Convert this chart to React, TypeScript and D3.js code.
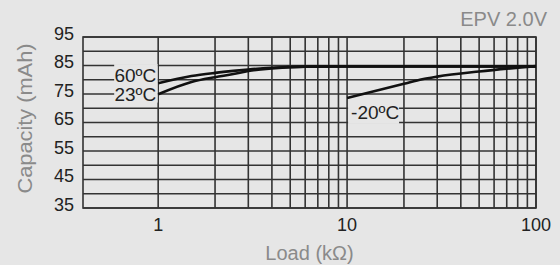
import React from "react";
import { scaleLog, scaleLinear, line, curveMonotoneX, range } from "d3";

const width = 560;
const height = 265;
const margin = { top: 37, right: 24, bottom: 57, left: 83 };

const xDomain = [0.4, 100];
const yDomain = [35, 95];
const xTickLabels = [1, 10, 100];
const xGridValues = [1, 2, 3, 4, 5, 6, 7, 8, 9, 10, 20, 30, 40, 50, 60, 70, 80, 90, 100];
const yTickLabels = [35, 45, 55, 65, 75, 85, 95];
const yGridValues = range(35, 96, 5);

const load60 = [1, 1.5, 2, 2.5, 3, 4, 6, 10, 100];
const cap60 = [78.8, 81.3, 82.4, 83.1, 83.6, 84.2, 84.6, 84.7, 84.7];
const load23 = [1, 1.5, 2, 2.5, 3, 4, 6, 10, 100];
const cap23 = [74.9, 79.2, 80.9, 82.0, 83.1, 84.0, 84.6, 84.7, 84.7];
const loadM20 = [10, 20, 25, 30, 50, 100];
const capM20 = [73.6, 78.6, 80.2, 81.1, 82.9, 84.8];

const curveLabels = ["60\u00baC", "23\u00baC", "-20\u00baC"];

const bg = "#e6e6e6";
const gridColor = "#333";
const titleColor = "#8a8a8a";
const font = "Liberation Sans, Arial, sans-serif";

function App() {
  const x = scaleLog().domain(xDomain).range([margin.left, width - margin.right]);
  const y = scaleLinear().domain(yDomain).range([height - margin.bottom, margin.top]);

  const path = line<[number, number]>()
    .x((d) => x(d[0]))
    .y((d) => y(d[1]))
    .curve(curveMonotoneX);

  const series = [
    load60.map((l, i) => [l, cap60[i]] as [number, number]),
    load23.map((l, i) => [l, cap23[i]] as [number, number]),
    loadM20.map((l, i) => [l, capM20[i]] as [number, number]),
  ];

  const x0 = x(xDomain[0]);
  const x1 = x(xDomain[1]);
  const y0 = y(yDomain[0]);
  const y1 = y(yDomain[1]);

  return (
    <svg
      width={width}
      height={height}
      style={{ position: "absolute", left: 0, top: 0, fontFamily: font }}
    >
      <rect width={width} height={height} fill={bg} />

      {/* grid */}
      {yGridValues.map((v) => (
        <line key={`h${v}`} x1={x0} x2={x1} y1={y(v)} y2={y(v)} stroke={gridColor} strokeWidth={1.6} />
      ))}
      {xGridValues.map((v) => (
        <line key={`v${v}`} x1={x(v)} x2={x(v)} y1={y1} y2={y0} stroke={gridColor} strokeWidth={1.6} />
      ))}
      <rect x={x0} y={y1} width={x1 - x0} height={y0 - y1} fill="none" stroke={gridColor} strokeWidth={1.6} />

      {/* label backgrounds hide the grid behind them */}
      <rect x={x(1) - 44} y={y(85.5)} width={43.5} height={y(72) - y(85.5)} fill={bg} />
      <rect x={x(10) + 1} y={y(71.2)} width={51} height={y(64.5) - y(71.2)} fill={bg} />

      {series.map((s, i) => (
        <path key={`s${i}`} d={path(s) || ""} fill="none" stroke="#111" strokeWidth={2.6} />
      ))}

      <text x={x(1) - 2} y={y(79.1)} textAnchor="end" fontSize={19} fill="#222">
        {curveLabels[0]}
      </text>
      <text x={x(1) - 2} y={y(72.4)} textAnchor="end" fontSize={19} fill="#222">
        {curveLabels[1]}
      </text>
      <text x={x(10) + 4} y={y(66.1)} textAnchor="start" fontSize={19} fill="#222">
        {curveLabels[2]}
      </text>

      {/* axes labels */}
      {yTickLabels.map((v) => (
        <text key={`yl${v}`} x={74} y={y(v) + 2.8} textAnchor="end" fontSize={18} fill="#222">
          {v}
        </text>
      ))}
      {xTickLabels.map((v) => (
        <text key={`xl${v}`} x={x(v)} y={230.5} textAnchor="middle" fontSize={18} fill="#222">
          {v}
        </text>
      ))}

      <text
        transform={`translate(32,${(y0 + y1) / 2 - 4}) rotate(-90)`}
        textAnchor="middle"
        fontSize={20}
        fill={titleColor}
        textLength={150}
        lengthAdjust="spacingAndGlyphs"
      >
        Capacity (mAh)
      </text>
      <text x={(x0 + x1) / 2} y={260} textAnchor="middle" fontSize={20} fill={titleColor}>
        {"Load (k\u03a9)"}
      </text>
      <text x={547} y={26} textAnchor="end" fontSize={20} fill={titleColor}>
        EPV 2.0V
      </text>
    </svg>
  );
}

export default App;
